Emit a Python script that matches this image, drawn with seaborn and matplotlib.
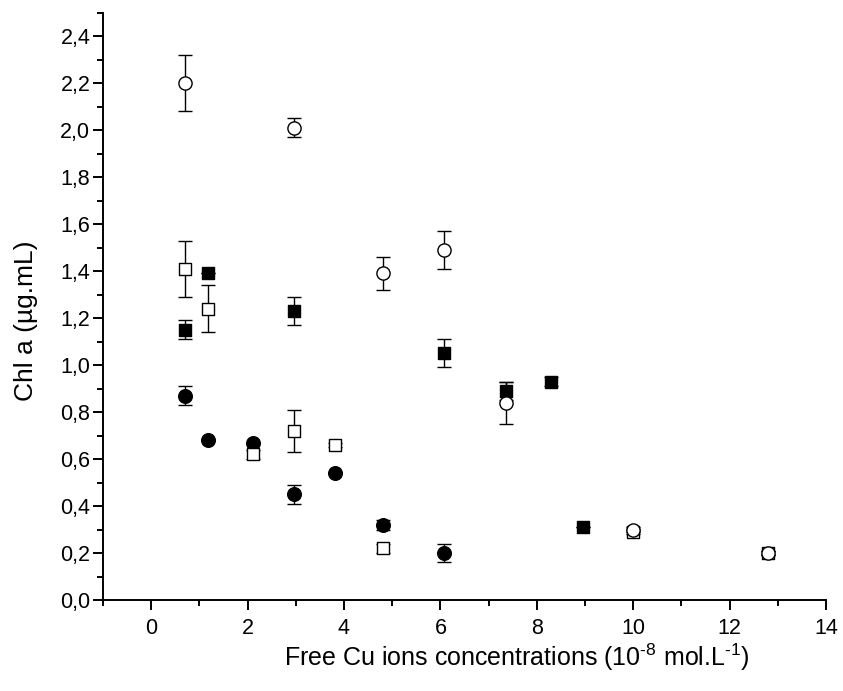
import matplotlib
matplotlib.use("Agg")
import matplotlib.pyplot as plt
import matplotlib.ticker as mticker
import seaborn as sns
import pandas as pd

# ---- data ----
oc_x = [0.70, 2.97, 4.81, 6.08, 7.37, 10.0, 12.8]
oc_y = [2.20, 2.01, 1.39, 1.49, 0.84, 0.30, 0.20]
oc_e = [0.12, 0.04, 0.07, 0.08, 0.09, 0.01, 0.01]

fs_x = [0.70, 1.18, 2.97, 6.08, 7.37, 8.29, 8.95]
fs_y = [1.15, 1.39, 1.23, 1.05, 0.89, 0.93, 0.31]
fs_e = [0.04, 0.00, 0.06, 0.06, 0.04, 0.02, 0.00]

os_x = [0.70, 1.18, 2.12, 2.97, 3.82, 4.81, 10.0, 12.8]
os_y = [1.41, 1.24, 0.62, 0.72, 0.66, 0.22, 0.29, 0.20]
os_e = [0.12, 0.10, 0.02, 0.09, 0.01, 0.02, 0.01, 0.01]

fc_x = [0.70, 1.18, 2.12, 2.97, 3.82, 4.81, 6.08]
fc_y = [0.87, 0.68, 0.67, 0.45, 0.54, 0.32, 0.20]
fc_e = [0.04, 0.00, 0.00, 0.04, 0.00, 0.02, 0.04]

y_ticks = [0.0, 0.2, 0.4, 0.6, 0.8, 1.0, 1.2, 1.4, 1.6, 1.8, 2.0, 2.2, 2.4]
y_labels = ["0,0", "0,2", "0,4", "0,6", "0,8", "1,0", "1,2", "1,4", "1,6", "1,8", "2,0", "2,2", "2,4"]
x_ticks = [0, 2, 4, 6, 8, 10, 12, 14]

x_title = "Free Cu ions concentrations (10$^{\\mathregular{\u20108}}$ mol.L$^{\\mathregular{\u20101}}$)"
y_title = "Chl a (µg.mL)"

sns.set_style("ticks")
plt.rcParams["font.family"] = ["Liberation Sans", "DejaVu Sans"]
plt.rcParams["mathtext.fontset"] = "custom"
plt.rcParams["mathtext.rm"] = "Liberation Sans"
plt.rcParams["text.color"] = "black"
plt.rcParams["axes.labelcolor"] = "black"
plt.rcParams["xtick.color"] = "black"
plt.rcParams["ytick.color"] = "black"

fig = plt.figure(figsize=(8.43, 6.91), dpi=100)
ax = fig.add_axes([0.122, 0.1317, 0.858, 0.850])

series = [
    (oc_x, oc_y, oc_e, "o", "white", 9.5, 4),
    (os_x, os_y, os_e, "s", "white", 8.5, 2),
    (fs_x, fs_y, fs_e, "s", "black", 8.5, 3),
    (fc_x, fc_y, fc_e, "o", "black", 9.8, 1),
]

for xs, ys, es, m, fc, ms, z in series:
    ax.errorbar(xs, ys, yerr=es, fmt="none", ecolor="black", elinewidth=1.0,
                capsize=5, capthick=1.0, zorder=z)
    df = pd.DataFrame({"x": xs, "y": ys})
    sns.scatterplot(data=df, x="x", y="y", marker=m, s=ms ** 2, color=fc,
                    edgecolor="black", linewidth=1.0, ax=ax, zorder=z + 0.5,
                    legend=False)

ax.set_xlim(-1, 14)
ax.set_ylim(0, 2.5)
ax.set_xticks(x_ticks)
ax.xaxis.set_minor_locator(mticker.MultipleLocator(1))
ax.set_yticks(y_ticks)
ax.set_yticklabels(y_labels)
ax.yaxis.set_minor_locator(mticker.MultipleLocator(0.1))

for s in ["top", "right"]:
    ax.spines[s].set_visible(False)
for s in ["left", "bottom"]:
    ax.spines[s].set_linewidth(1.4)
    ax.spines[s].set_color("black")

ax.tick_params(axis="both", which="major", direction="out", length=7, width=1.4,
               color="black", labelcolor="black")
ax.tick_params(axis="both", which="minor", direction="out", length=4, width=1.4, color="black")
ax.tick_params(axis="y", labelsize=15.5, pad=2)
ax.tick_params(axis="x", labelsize=15.5, pad=6)

ax.set_xlabel(x_title, fontsize=18, va="top", ha="center", color="black")
ax.xaxis.set_label_coords(0.573, -0.070)
ax.set_ylabel(y_title, fontsize=19, va="center", ha="center", color="black")
ax.yaxis.set_label_coords(-0.106, 0.475)

fig.savefig("out.png", dpi=100)
